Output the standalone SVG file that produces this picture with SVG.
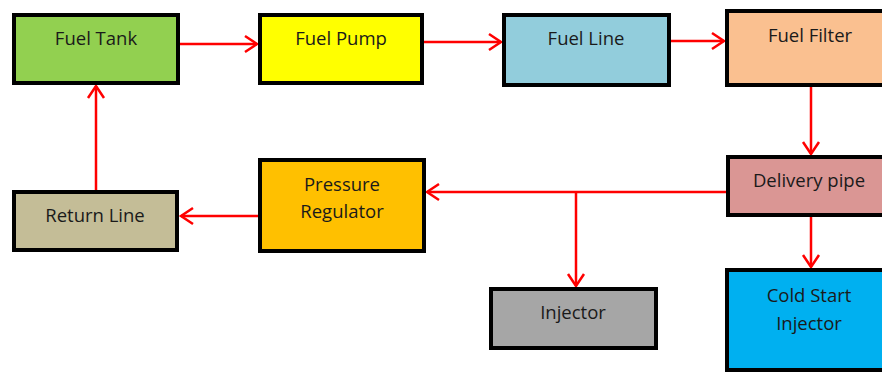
<svg xmlns="http://www.w3.org/2000/svg" width="882" height="372" viewBox="0 0 882 372">
<style>
.box{stroke:#000;stroke-width:4}
.lbl{font-family:"Open Sans","Liberation Sans",sans-serif;font-size:18.5px;fill:#1a1a1a;text-anchor:middle}
.c{stroke:#ff0000;stroke-width:2.5;fill:none}
</style>
<defs>
<marker id="ah" markerUnits="userSpaceOnUse" markerWidth="16" markerHeight="20" refX="13" refY="9" orient="auto" viewBox="0 0 16 18">
<path d="M1,1 L13,9 L1,17" fill="none" stroke="#ff0000" stroke-width="2.5"/>
</marker>
</defs>
<rect width="882" height="372" fill="#fff"/>
<g id="connectors">
<line class="c" x1="180" y1="44" x2="257" y2="44" marker-end="url(#ah)"/>
<line class="c" x1="424" y1="42" x2="501" y2="42" marker-end="url(#ah)"/>
<line class="c" x1="671" y1="41" x2="724" y2="41" marker-end="url(#ah)"/>
<line class="c" x1="811" y1="80" x2="811" y2="154" marker-end="url(#ah)"/>
<line class="c" x1="726" y1="192" x2="427" y2="192" marker-end="url(#ah)"/>
<line class="c" x1="576" y1="192" x2="576" y2="286" marker-end="url(#ah)"/>
<line class="c" x1="811" y1="217" x2="811" y2="267" marker-end="url(#ah)"/>
<line class="c" x1="258" y1="216" x2="181" y2="216" marker-end="url(#ah)"/>
<line class="c" x1="96" y1="190" x2="96" y2="86" marker-end="url(#ah)"/>
</g>
<g id="fuel-tank"><rect class="box" x="14" y="15" width="164" height="68" fill="#92D050"/><text class="lbl" x="96" y="45">Fuel Tank</text></g>
<g id="fuel-pump"><rect class="box" x="260" y="15" width="162" height="68" fill="#FFFF00"/><text class="lbl" x="341" y="45">Fuel Pump</text></g>
<g id="fuel-line"><rect class="box" x="504" y="15" width="165" height="70" fill="#92CDDC"/><text class="lbl" x="586" y="45">Fuel Line</text></g>
<g id="fuel-filter"><rect class="box" x="727" y="11" width="165" height="74" fill="#FAC090"/><text class="lbl" x="810" y="42">Fuel Filter</text></g>
<g id="delivery-pipe"><rect class="box" x="728" y="157" width="164" height="58" fill="#DA9694"/><text class="lbl" x="809" y="187">Delivery pipe</text></g>
<g id="pressure-regulator"><rect class="box" x="260" y="160" width="164" height="91" fill="#FFC000"/><text class="lbl" x="342" y="191">Pressure</text><text class="lbl" x="342" y="218">Regulator</text></g>
<g id="return-line"><rect class="box" x="14" y="192" width="163" height="58" fill="#C4BD97"/><text class="lbl" x="95" y="222">Return Line</text></g>
<g id="injector"><rect class="box" x="491" y="289" width="165" height="59" fill="#A6A6A6"/><text class="lbl" x="573" y="319">Injector</text></g>
<g id="cold-start-injector"><rect class="box" x="727" y="270" width="165" height="100" fill="#00B0F0"/><text class="lbl" x="809" y="302">Cold Start</text><text class="lbl" x="809" y="330">Injector</text></g>
</svg>
